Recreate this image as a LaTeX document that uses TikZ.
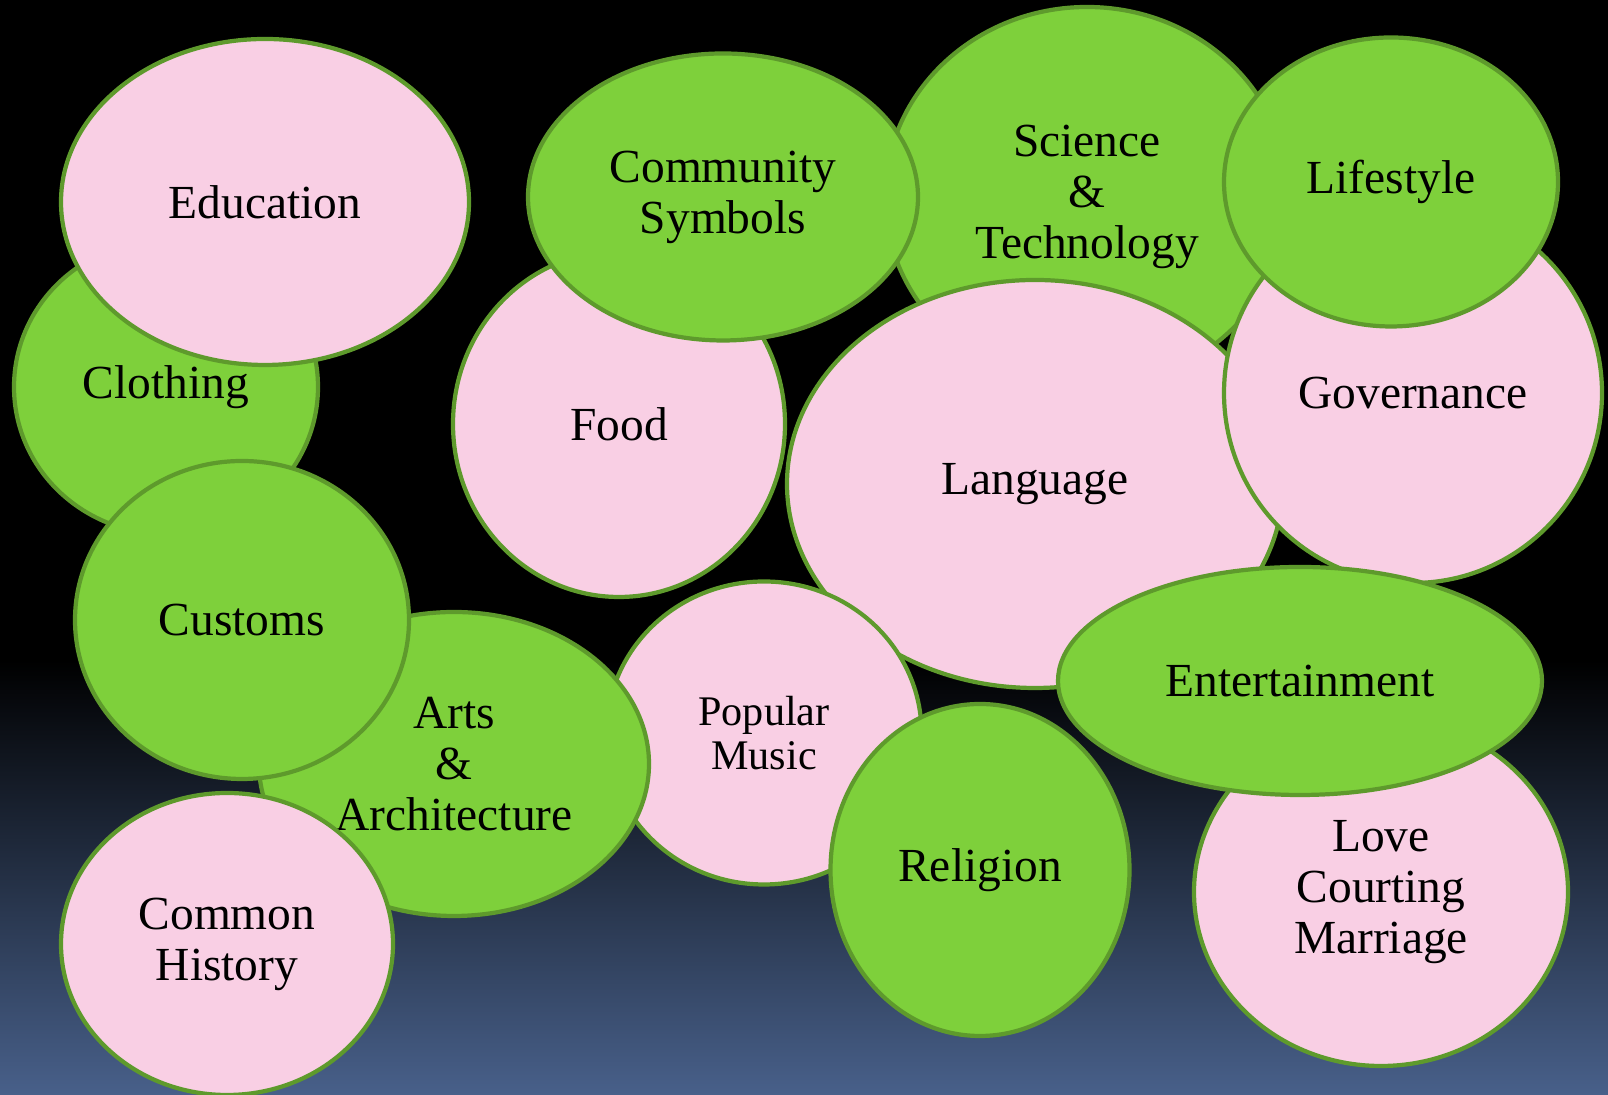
\documentclass[tikz,border=0pt]{standalone}
\usepackage{fontspec}
\setmainfont{Liberation Serif}
\usepackage{tikz}
\usetikzlibrary{
        shapes.geometric,
        backgrounds
    }
\definecolor{bubblegreen}{RGB}{126,208,59}
\definecolor{bubblepink}{RGB}{249,207,228}
\definecolor{rimgreen}{RGB}{94,154,44}
\definecolor{bgblue}{RGB}{72,96,138}
\tikzset{bubble/.style={draw=rimgreen,line width=1.2pt,ellipse,inner sep=0pt,align=center,
        font=\fontsize{13.5pt}{14.5pt}\selectfont}}
\tikzset{green bubble/.style={bubble,fill=bubblegreen}}
\tikzset{pink bubble/.style={bubble,fill=bubblepink}}

\begin{document}
\begin{tikzpicture}
            % backdrop
            \fill[black] (0,0) rectangle (16.08,10.95);
            \shade[top color=black,bottom color=bgblue] (0,0) rectangle (16.08,4.35);
            \useasboundingbox (0,0) rectangle (16.08,10.95);
            % bubbles, back to front
            \node[green bubble,minimum width=3.04cm,minimum height=2.94cm] (clothing) at (1.66,7.08) {Clothing};
            \node[pink bubble,minimum width=4.08cm,minimum height=3.26cm] (education) at (2.65,8.93) {Education};
            \node[pink bubble,minimum width=3.32cm,minimum height=3.46cm] (food) at (6.19,6.71) {Food};
            \node[green bubble,minimum width=4.04cm,minimum height=3.80cm] (science) at (10.87,8.98) {Science\\ \&\\ Technology};
            \node[green bubble,minimum width=3.90cm,minimum height=2.87cm] (community) at (7.23,8.98) {Community\\ Symbols};
            \node[pink bubble,minimum width=4.96cm,minimum height=4.08cm] (language) at (10.35,6.11) {Language};
            \node[pink bubble,minimum width=3.78cm,minimum height=3.80cm] (governance) at (14.13,7.02) {Governance};
            \node[green bubble,minimum width=3.34cm,minimum height=2.89cm] (lifestyle) at (13.91,9.13) {Lifestyle};
            \node[pink bubble,minimum width=3.15cm,minimum height=3.03cm,
                  font=\fontsize{12pt}{12.5pt}\selectfont] (music) at (7.64,3.62) {Popular\\ Music};
            \node[green bubble,minimum width=3.90cm,minimum height=3.04cm] (arts) at (4.54,3.31) {Arts\\ \&\\ Architecture};
            \node[green bubble,minimum width=3.34cm,minimum height=3.18cm] (customs) at (2.42,4.75) {Customs};
            \node[pink bubble,minimum width=3.32cm,minimum height=3.02cm] (history) at (2.27,1.51) {Common\\ History};
            \node[green bubble,minimum width=2.99cm,minimum height=3.32cm] (religion) at (9.80,2.25) {Religion};
            \node[pink bubble,minimum width=3.74cm,minimum height=3.48cm] (love) at (13.81,2.03) {Love\\ Courting\\ Marriage};
            \node[green bubble,minimum width=4.84cm,minimum height=2.28cm] (entertainment) at (13.00,4.14) {Entertainment};
        \end{tikzpicture}
\end{document}
